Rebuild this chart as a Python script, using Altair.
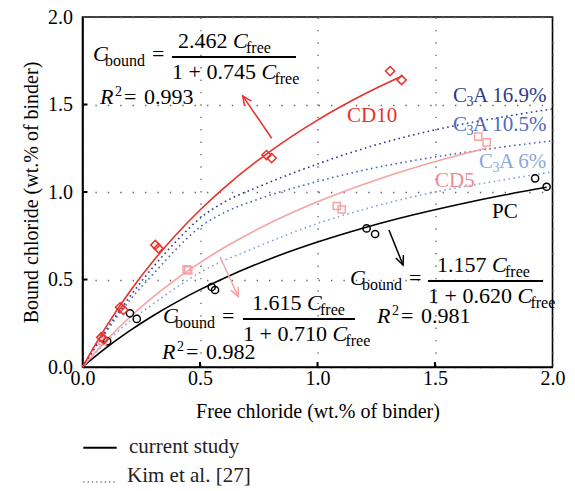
import math
import altair as alt
import pandas as pd

FONT = "'Liberation Serif', 'Times New Roman', 'DejaVu Serif', serif"
W, H = 470, 350
X0PX, Y0PX = 82.5, 17.0
XS, YS = W / 2.0, H / 2.0

RED = "#e8302c"
PINK = "#f5a3a3"
PINK_T = "#f08c8c"
NAVY = "#2e3a8f"
MID = "#4a66b8"
LIGHT = "#86a3dc"

# ---------------- measured data ----------------
cd10_x = [0.08, 0.09, 0.16, 0.174, 0.31, 0.323, 0.783, 0.805, 1.309, 1.358]
cd10_y = [0.17, 0.16, 0.341, 0.326, 0.697, 0.678, 1.211, 1.194, 1.691, 1.640]
cd5_x = [0.085, 0.443, 0.45, 1.082, 1.103, 1.684, 1.72]
cd5_y = [0.15, 0.558, 0.552, 0.92, 0.90, 1.316, 1.284]
pc_x = [0.105, 0.202, 0.231, 0.55, 0.564, 1.209, 1.245, 1.926, 1.975]
pc_y = [0.147, 0.307, 0.275, 0.457, 0.44, 0.792, 0.76, 1.078, 1.03]

# fitted curves (values as drawn)
cd10_fx = [0, 0.1, 0.2, 0.3, 0.4, 0.5, 0.6, 0.8, 1.0, 1.2, 1.36]
cd10_fy = [0, 0.229, 0.429, 0.604, 0.759, 0.897, 1.021, 1.234, 1.411, 1.560, 1.663]
cd5_fx = [0, 0.1, 0.2, 0.3, 0.4, 0.5, 0.6, 0.8, 1.0, 1.2, 1.4, 1.6, 1.72]
cd5_fy = [0, 0.151, 0.283, 0.399, 0.503, 0.596, 0.680, 0.824, 0.944, 1.046, 1.134, 1.210, 1.251]
pc_fx = [0, 0.1, 0.2, 0.3, 0.4, 0.5, 0.6, 0.8, 1.0, 1.2, 1.4, 1.6, 1.8, 1.975]
pc_fy = [0, 0.109, 0.206, 0.293, 0.371, 0.442, 0.506, 0.619, 0.714, 0.796, 0.867, 0.929, 0.984, 1.027]

# Kim et al. curves
k169_x = [0, 0.1, 0.2, 0.3, 0.4, 0.5, 0.6, 0.75, 1.0, 1.25, 1.5, 1.75, 2.0]
k169_y = [0, 0.21, 0.40, 0.57, 0.72, 0.85, 0.94, 1.03, 1.16, 1.27, 1.355, 1.42, 1.475]
k105_x = [0, 0.1, 0.2, 0.3, 0.4, 0.5, 0.6, 0.75, 1.0, 1.25, 1.5, 1.75, 2.0]
k105_y = [0, 0.20, 0.38, 0.53, 0.675, 0.80, 0.88, 0.96, 1.06, 1.14, 1.20, 1.25, 1.293]
k6_x = [0, 0.1, 0.2, 0.3, 0.5, 0.75, 1.0, 1.25, 1.5, 1.75, 2.0]
k6_y = [0, 0.14, 0.26, 0.36, 0.54, 0.69, 0.82, 0.92, 1.00, 1.06, 1.115]

tick_vals = [0, 0.5, 1.0, 1.5, 2.0]
inner_ticks = [0.5, 1.0, 1.5]

# ---------------- helpers ----------------
def dxp(px):
    return (px - X0PX) / XS

def dyp(py):
    return (Y0PX + H - py) / YS

xscale = alt.Scale(domain=[0, 2], nice=False, zero=False)
yscale = alt.Scale(domain=[0, 2], nice=False, zero=False)
xaxis = alt.Axis(values=tick_vals, format=".1f", title="Free chloride (wt.% of binder)",
                 ticks=False, labelPadding=1, titlePadding=13, grid=True,
                 gridDash=[1.4, 11], gridColor="#666", gridWidth=1.3,
                 domainColor="black", domainWidth=1.6, labelFont=FONT, labelFontSize=20,
                 labelColor="black", titleFont=FONT, titleFontSize=20,
                 titleFontWeight="normal", titleColor="black", labelFlush=False)
yaxis = alt.Axis(values=tick_vals, format=".1f", title="Bound chloride (wt.% of binder)",
                 ticks=False, labelPadding=10, titlePadding=6, grid=True,
                 gridDash=[1.4, 11], gridColor="#666", gridWidth=1.3,
                 domainColor="black", domainWidth=1.6, labelFont=FONT, labelFontSize=20,
                 labelColor="black", titleFont=FONT, titleFontSize=20,
                 titleFontWeight="normal", titleColor="black", labelFlush=False)

def X(f="x"):
    return alt.X(f"{f}:Q", scale=xscale, axis=xaxis)

def Y(f="y"):
    return alt.Y(f"{f}:Q", scale=yscale, axis=yaxis)

def line(xs, ys, color, width=1.6, dash=None):
    kw = dict(color=color, strokeWidth=width, interpolate="monotone")
    if dash:
        kw["strokeDash"] = dash
    return alt.Chart(pd.DataFrame({"x": xs, "y": ys})).mark_line(**kw).encode(x=X(), y=Y())

def pts(xs, ys, color, shape, size):
    return alt.Chart(pd.DataFrame({"x": xs, "y": ys})).mark_point(
        shape=shape, size=size, filled=False, color=color, strokeWidth=1.5, opacity=1
    ).encode(x=X(), y=Y())

TW = {".": .25, " ": .25, "+": .564, "=": .564, "C": .667, "R": .611}
def tw(s, size):
    return sum(TW.get(c, .5) for c in s) * size

rows = {"rm": [], "it": [], "sub": [], "sup": []}
bars = []

def put(style, px, py, t):
    rows[style].append((dxp(px), dyp(py), t))

def eq(x0, y0, num_x, num, den_x, den, bar, rpos, r2):
    put("it", x0, y0, "C")
    put("sub", x0 + 12, y0 + 5, "bound")
    put("rm", x0 + 59, y0, "=")
    for sx, s, yy in ((num_x, num, y0 - 13.5), (den_x, den, y0 + 17.5)):
        lead = s + " "
        wl = tw(lead, 22)
        put("rm", sx, yy, lead)
        put("it", sx + wl, yy, "C")
        put("sub", sx + wl + 13, yy + 5, "free")
    bars.append((dxp(bar[0]), dxp(bar[1]), dyp(y0 - 4)))
    rx, ry = rpos
    put("it", rx, ry, "R")
    put("sup", rx + 15, ry - 8, "2")
    put("rm", rx + 24, ry, "=")
    put("rm", rx + 44, ry, r2)

eq(93, 61, 178, "2.462", 172, "1 + 0.745", (172, 296), (100, 104), "0.993")
eq(350, 285, 437, "1.157", 428, "1 + 0.620", (428, 543), (377, 323), "0.981")
eq(163, 323, 252, "1.615", 243, "1 + 0.710", (243, 355), (162, 359), "0.982")

def text_layer(data, size, italic=False):
    df = pd.DataFrame(data, columns=["x", "y", "t"])
    return alt.Chart(df).mark_text(
        align="left", baseline="alphabetic", font=FONT, fontSize=size,
        fontStyle="italic" if italic else "normal", color="black"
    ).encode(x=X(), y=Y(), text="t:N")

# coloured curve labels
lab = []
lab_sub = []
def label(px, py, t, c):
    lab.append((dxp(px), dyp(py), t, c))

def c3a(px, py, rest, c):
    label(px, py, "C", c)
    lab_sub.append((dxp(px + 13.5), dyp(py + 4), "3", c))
    label(px + 20, py, rest, c)

label(347, 122, "CD10", RED)
label(435, 187, "CD5", PINK_T)
label(492, 218, "PC", "black")
c3a(453, 102, "A 16.9%", NAVY)
c3a(453, 131, "A 10.5%", "#4d6bbd")
c3a(479, 168, "A 6%", "#8aa7de")

def color_text(data, size):
    df = pd.DataFrame(data, columns=["x", "y", "t", "c"])
    return alt.Chart(df).mark_text(
        align="left", baseline="alphabetic", font=FONT, fontSize=size
    ).encode(x=X(), y=Y(), text="t:N", color=alt.Color("c:N", scale=None))

# arrows (data coords)
arrows = pd.DataFrame({
    "x": [0.805, 0.585, 1.304], "y": [1.307, 0.630, 0.783],
    "x2": [0.682, 0.663, 1.364], "y2": [1.549, 0.402, 0.583],
    "c": [RED, PINK, "black"],
})
arrows["ang"] = [
    math.degrees(math.atan2((tx - sx) * XS, (ty - sy) * YS)) % 360
    for sx, sy, tx, ty in zip(arrows.x, arrows.y, arrows.x2, arrows.y2)
]
arrow_lines = alt.Chart(arrows).mark_rule(strokeWidth=1.5).encode(
    x=X(), y=Y(), x2="x2:Q", y2="y2:Q", color=alt.Color("c:N", scale=None))
arrow_heads = alt.Chart(arrows).mark_point(
    shape="M-0.45,1L0,0L0.45,1", size=330, filled=False, strokeWidth=1.5, opacity=1
).encode(x=X("x2"), y=Y("y2"), angle=alt.Angle("ang:Q", scale=None),
         color=alt.Color("c:N", scale=None))

bar_df = pd.DataFrame(bars, columns=["x", "x2", "y"])
bar_layer = alt.Chart(bar_df).mark_rule(strokeWidth=2.2, color="black").encode(
    x=X(), x2="x2:Q", y=Y())

# inward ticks
xt = alt.Chart(pd.DataFrame({"x": inner_ticks})).mark_rule(color="black", strokeWidth=2).encode(
    x=X(), y=alt.value(H), y2=alt.value(H - 5))
yt = alt.Chart(pd.DataFrame({"y": inner_ticks})).mark_rule(color="black", strokeWidth=2).encode(
    y=Y(), x=alt.value(0), x2=alt.value(5))

# legend below plot
leg = pd.DataFrame({
    "x": [dxp(83.3), dxp(83.3)], "x2": [dxp(116.7), dxp(116.7)],
    "y": [dyp(447.7), dyp(482)], "kind": ["solid", "dot"],
})
leg_solid = alt.Chart(leg[leg.kind == "solid"]).mark_rule(color="black", strokeWidth=2).encode(
    x=X(), x2="x2:Q", y=Y())
leg_dot = alt.Chart(leg[leg.kind == "dot"]).mark_rule(
    color="#333", strokeWidth=1.2, strokeDash=[1.3, 3]).encode(x=X(), x2="x2:Q", y=Y())
leg_text = color_text([(dxp(129), dyp(453), "current study", "#222"),
                       (dxp(127), dyp(482), "Kim et al. [27]", "#222")], 21)

layers = [
    line(k6_x, k6_y, LIGHT, 1.6, [1.6, 3.4]),
    line(k105_x, k105_y, MID, 1.6, [1.6, 3.4]),
    line(k169_x, k169_y, NAVY, 1.6, [1.6, 3.4]),
    line(pc_fx, pc_fy, "black", 1.6),
    line(cd5_fx, cd5_fy, PINK, 1.6),
    line(cd10_fx, cd10_fy, RED, 1.6),
    pts(pc_x, pc_y, "black", "circle", 52),
    pts(cd5_x, cd5_y, PINK, "square", 52),
    pts(cd10_x, cd10_y, RED, "diamond", 85),
    xt, yt,
    bar_layer,
    text_layer(rows["rm"], 22),
    text_layer(rows["it"], 22, italic=True),
    text_layer(rows["sub"], 16),
    text_layer(rows["sup"], 14),
    color_text(lab, 21),
    color_text(lab_sub, 14),
    arrow_lines, arrow_heads,
    leg_solid, leg_dot, leg_text,
]

chart = alt.layer(*layers).properties(
    width=W, height=H,
    autosize=alt.AutoSizeParams(type="none"),
    padding={"left": X0PX, "top": Y0PX, "right": 575 - X0PX - W, "bottom": 491 - Y0PX - H},
).configure_view(stroke="black", strokeWidth=1.6)

chart.save("out.html", embed_options={"renderer": "svg", "actions": False})
